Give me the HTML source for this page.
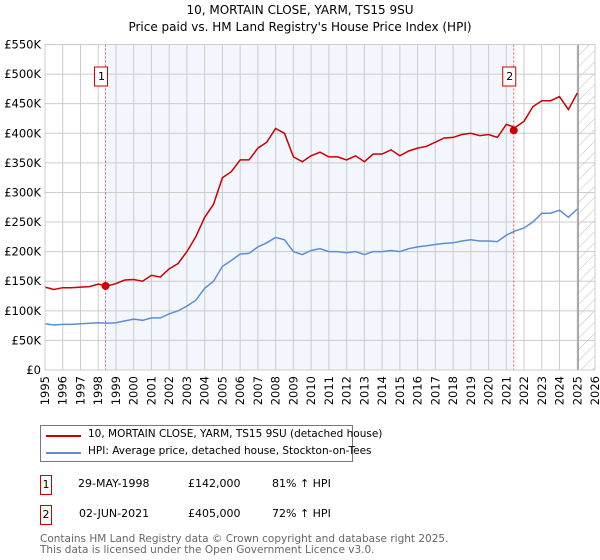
<!DOCTYPE html>
<html><head><meta charset="utf-8"><style>
body{margin:0;width:600px;height:560px;background:#fff;font-family:"DejaVu Sans","Liberation Sans",sans-serif;overflow:hidden;position:relative}
.t{position:absolute;font-size:11px;color:#000;white-space:nowrap}
.box{position:absolute;border:1.3px solid #c00;width:10px;height:18px;font-size:11px;text-align:center;line-height:18px;background:#fff}
</style></head><body>
<div class="t" style="left:0;width:600px;text-align:center;top:3px;font-size:12px">10, MORTAIN CLOSE, YARM, TS15 9SU</div>
<div class="t" style="left:0;width:600px;text-align:center;top:20px;font-size:12px">Price paid vs. HM Land Registry's House Price Index (HPI)</div>
<svg id="c" width="600" height="415" style="position:absolute;left:0;top:0" font-family="DejaVu Sans, Liberation Sans, sans-serif" font-size="11.5"></svg>
<div style="position:absolute;left:40px;top:425px;width:311px;height:35px;border:1px solid #777">
<div style="position:absolute;left:5px;top:9px;width:35px;height:2px;background:#c00"></div>
<div class="t" style="left:47px;top:2px;font-size:10.5px">10, MORTAIN CLOSE, YARM, TS15 9SU (detached house)</div>
<div style="position:absolute;left:5px;top:26px;width:35px;height:2px;background:#5b8fd4"></div>
<div class="t" style="left:47px;top:19px;font-size:10.5px">HPI: Average price, detached house, Stockton-on-Tees</div>
</div>
<div class="box" style="left:40px;top:475px">1</div>
<div class="t" style="left:78px;top:477px">29-MAY-1998</div>
<div class="t" style="left:188px;top:477px">£142,000</div>
<div class="t" style="left:272px;top:477px">81% ↑ HPI</div>
<div class="box" style="left:40px;top:505px">2</div>
<div class="t" style="left:79px;top:507px">02-JUN-2021</div>
<div class="t" style="left:188px;top:507px">£405,000</div>
<div class="t" style="left:272px;top:507px">72% ↑ HPI</div>
<div class="t" style="left:40px;top:534px;color:#666;font-size:10.5px;line-height:11px">Contains HM Land Registry data © Crown copyright and database right 2025.<br>This data is licensed under the Open Government Licence v3.0.</div>
<script>
const years=[1995,1995.5,1996,1996.5,1997,1997.5,1998,1998.5,1999,1999.5,2000,2000.5,2001,2001.5,2002,2002.5,2003,2003.5,2004,2004.5,2005,2005.5,2006,2006.5,2007,2007.5,2008,2008.5,2009,2009.5,2010,2010.5,2011,2011.5,2012,2012.5,2013,2013.5,2014,2014.5,2015,2015.5,2016,2016.5,2017,2017.5,2018,2018.5,2019,2019.5,2020,2020.5,2021,2021.5,2022,2022.5,2023,2023.5,2024,2024.5,2025];
const hpi=[78,76,77,77,78,79,80,79,80,83,86,84,88,88,95,100,108,118,138,150,175,185,196,197,208,215,224,220,200,195,202,205,200,200,198,200,195,200,200,202,200,205,208,210,212,214,215,218,220,218,218,217,228,235,240,250,265,265,270,258,272];
const prop=[140,136,139,139,140,141,145,142,146,152,153,150,160,157,171,180,200,225,258,280,325,335,355,355,375,385,408,400,360,352,362,368,360,360,355,362,352,365,365,372,362,370,375,378,385,392,393,398,400,396,398,393,415,410,420,445,455,455,462,440,468];
const sales=[[1998.41,142],[2021.42,405]];
const yTicks=[0,50,100,150,200,250,300,350,400,450,500,550];
const xTicks=[1995,1996,1997,1998,1999,2000,2001,2002,2003,2004,2005,2006,2007,2008,2009,2010,2011,2012,2013,2014,2015,2016,2017,2018,2019,2020,2021,2022,2023,2024,2025,2026];
const L=45,R=595,T=44.5,B=370;
const X=y=>L+(y-1995)/31*(R-L), Y=v=>B-v/550*(B-T);
const s=document.getElementById('c'),NS='http://www.w3.org/2000/svg';
function el(t,a,p){const e=document.createElementNS(NS,t);for(const k in a)e.setAttribute(k,a[k]);(p||s).appendChild(e);return e;}
const defs=el('defs',{});const pat=el('pattern',{id:'h',width:8,height:8,patternUnits:'userSpaceOnUse',patternTransform:'rotate(45)'},defs);el('line',{x1:0,y1:0,x2:0,y2:8,stroke:'#bbb','stroke-width':1},pat);
const sh=el('rect',{x:X(sales[0][0]),y:T,width:X(sales[1][0])-X(sales[0][0]),height:B-T,fill:'#f3f6fd'});

const ht=el('rect',{x:X(2025.05),y:T,width:R-X(2025.05),height:B-T,fill:'url(#h)'});

yTicks.forEach(v=>{const g=el('line',{x1:L,x2:R,y1:Y(v),y2:Y(v),stroke:'#ccc'});
const t=el('text',{x:L-4,y:Y(v)+4,'text-anchor':'end'});t.textContent=v?'£'+v+'K':'£0';});
xTicks.forEach(y=>{const g=el('line',{x1:X(y),x2:X(y),y1:T,y2:B,stroke:'#ccc'});
const t=el('text',{x:0,y:0,'text-anchor':'end',transform:`translate(${X(y)+4},${B+6}) rotate(-90)`});t.textContent=y;});
const fr=el('line',{x1:X(2025.05),x2:X(2025.05),y1:T,y2:B,stroke:'#888','stroke-width':1.2});
const pts=a=>years.map((y,i)=>X(y).toFixed(1)+','+Y(a[i]).toFixed(1)).join(' ');
const hl=el('polyline',{points:pts(hpi),fill:'none',stroke:'#5b8fd4','stroke-width':1.5});
const pl=el('polyline',{points:pts(prop),fill:'none',stroke:'#c00','stroke-width':1.5});
sales.forEach((d,i)=>{const v=el('line',{x1:X(d[0]),x2:X(d[0]),y1:T,y2:B,stroke:'#e55','stroke-dasharray':'2,2'});
const c=el('circle',{cx:X(d[0]),cy:Y(d[1]),r:4,fill:'#c00'});
const bx=X(d[0])-4;const r=el('rect',{x:bx-7,y:67,width:13,height:19,fill:'#fff',stroke:'#c00'});
const t=el('text',{x:bx,y:80,'text-anchor':'middle','font-size':11});t.textContent=i+1;});
el('rect',{x:L,y:T,width:R-L,height:B-T,fill:'none',stroke:'#ccc'});
</script>
</body></html>
